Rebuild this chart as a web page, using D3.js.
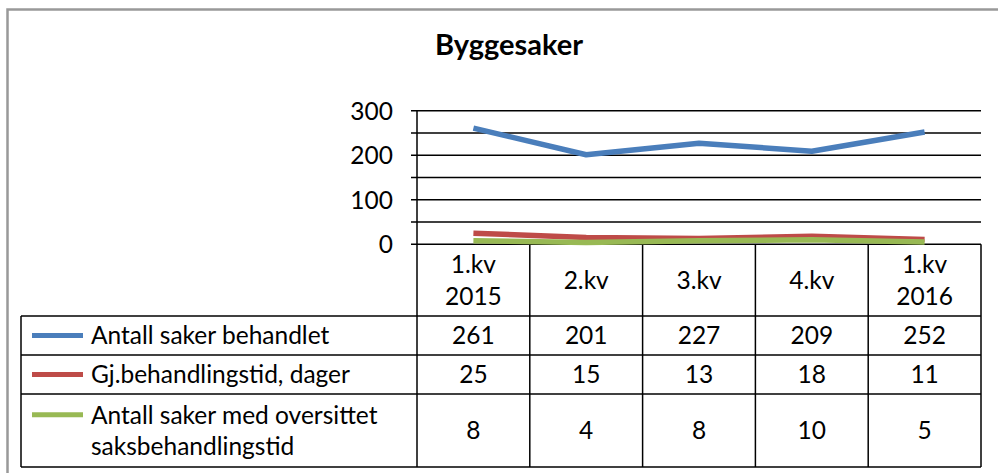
<!DOCTYPE html>
<html>
<head>
<meta charset="utf-8">
<script src="https://cdn.jsdelivr.net/npm/d3@7"></script>
<style>
body { margin: 0; background: #fff; }
text { font-family: Lato, "Open Sans", sans-serif; fill: #000; }
</style>
</head>
<body>
<script>
// data
var kvartal = [["1.kv", "2015"], ["2.kv"], ["3.kv"], ["4.kv"], ["1.kv", "2016"]]
var navn = [["Antall saker behandlet"], ["Gj.behandlingstid, dager"], ["Antall saker med oversittet", "saksbehandlingstid"]]
var behandlet = [261, 201, 227, 209, 252]
var behandlingstid = [25, 15, 13, 18, 11]
var oversittet = [8, 4, 8, 10, 5]
var yTicks = [0, 50, 100, 150, 200, 250, 300]
var yLabels = [0, 100, 200, 300]

var serier = [behandlet, behandlingstid, oversittet]
var farger = ["#4a7ebb", "#be4b48", "#98b954"]

svg = d3.select("body")
  .append("svg")
  .attr("width", 998)
  .attr("height", 473)

// ramme rundt diagrammet
svg.append("path")
  .attr("d", "M7.5,480 L7.5,9.5 L1010,9.5")
  .attr("fill", "none")
  .attr("stroke", "#999")
  .attr("stroke-width", 2.5)

svg.append("text")
  .attr("x", 509)
  .attr("y", 55)
  .attr("text-anchor", "middle")
  .attr("font-weight", "bold")
  .attr("font-size", 29)
  .text("Byggesaker")

var escalaX = d3.scaleBand()
  .domain(d3.range(kvartal.length))
  .range([417, 981])

var escalaY = d3.scaleLinear()
  .domain([0, 300])
  .range([244.3, 110.7])

// rutenett
svg.selectAll(".grid")
  .data(yTicks)
  .enter().append("line")
  .attr("x1", 411)
  .attr("x2", 981)
  .attr("y1", d => escalaY(d))
  .attr("y2", d => escalaY(d))
  .attr("stroke", "#000")
  .attr("stroke-width", 1.5)

svg.selectAll(".ylab")
  .data(yLabels)
  .enter().append("text")
  .attr("x", 393)
  .attr("y", d => escalaY(d))
  .attr("dy", "0.36em")
  .attr("text-anchor", "end")
  .attr("font-size", 24.5)
  .text(d => d)

// tabell
var radTopp = [244.3, 316, 355, 394]
var radBunn = [316, 355, 394, 467]

svg.selectAll(".hlinje")
  .data(radBunn)
  .enter().append("line")
  .attr("x1", 21)
  .attr("x2", 981)
  .attr("y1", d => d)
  .attr("y2", d => d)
  .attr("stroke", "#000")
  .attr("stroke-width", 1.5)

svg.append("line")
  .attr("x1", 21).attr("x2", 21)
  .attr("y1", 316).attr("y2", 467)
  .attr("stroke", "#000").attr("stroke-width", 1.5)

svg.append("line")
  .attr("x1", 417).attr("x2", 417)
  .attr("y1", escalaY(300)).attr("y2", 467)
  .attr("stroke", "#000").attr("stroke-width", 1.5)

svg.selectAll(".vlinje")
  .data(d3.range(kvartal.length))
  .enter().append("line")
  .attr("x1", d => escalaX(d) + escalaX.bandwidth())
  .attr("x2", d => escalaX(d) + escalaX.bandwidth())
  .attr("y1", 244.3)
  .attr("y2", 467)
  .attr("stroke", "#000")
  .attr("stroke-width", 1.5)

var linjeAvstand = 31.5

kvartal.forEach(function(k, i) {
  var midt = (radTopp[0] + radBunn[0]) / 2
  k.forEach(function(t, j) {
    svg.append("text")
      .attr("x", escalaX(i) + escalaX.bandwidth() / 2)
      .attr("y", midt + (j - (k.length - 1) / 2) * linjeAvstand)
      .attr("dy", "0.36em")
      .attr("text-anchor", "middle")
      .attr("font-size", 24.5)
      .text(t)
  })
})

serier.forEach(function(s, r) {
  var midt = (radTopp[r + 1] + radBunn[r + 1]) / 2
  svg.append("line")
    .attr("x1", 32).attr("x2", 83)
    .attr("y1", midt - (navn[r].length - 1) * linjeAvstand / 2)
    .attr("y2", midt - (navn[r].length - 1) * linjeAvstand / 2)
    .attr("stroke", farger[r])
    .attr("stroke-width", 5)
  navn[r].forEach(function(t, j) {
    svg.append("text")
      .attr("x", 91)
      .attr("y", midt + (j - (navn[r].length - 1) / 2) * linjeAvstand)
      .attr("dy", "0.36em")
      .attr("font-size", 24.5)
      .text(t)
  })
  s.forEach(function(v, i) {
    svg.append("text")
      .attr("x", escalaX(i) + escalaX.bandwidth() / 2)
      .attr("y", midt)
      .attr("dy", "0.36em")
      .attr("text-anchor", "middle")
      .attr("font-size", 24.5)
      .text(v)
  })
})

// linjer
var linje = d3.line()
  .x((d, i) => escalaX(i) + escalaX.bandwidth() / 2)
  .y(d => escalaY(d))

serier.forEach(function(s, r) {
  svg.append("path")
    .attr("d", linje(s))
    .attr("fill", "none")
    .attr("stroke", farger[r])
    .attr("stroke-width", 5.5)
    .attr("stroke-linejoin", "round")
})
</script>
</body>
</html>
